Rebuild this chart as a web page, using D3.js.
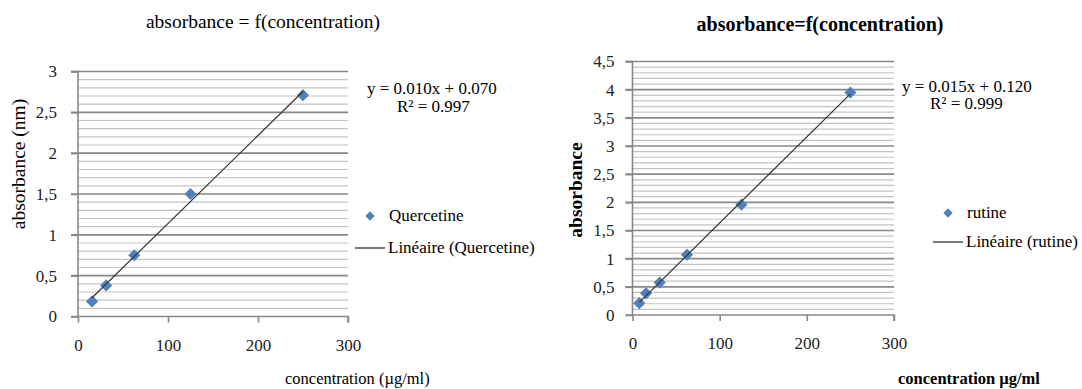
<!DOCTYPE html>
<html>
<head>
<meta charset="utf-8">
<script src="https://cdn.jsdelivr.net/npm/d3@7"></script>
<style>
  body { margin: 0; background: #fff; }
  svg text { font-family: "Liberation Serif", "Times New Roman", Times, "DejaVu Serif", serif !important; }
</style>
</head>
<body>
<div id="container"></div>
<script>
const width = 1082, height = 389;

/** -------------- DATA -------------- */

// quercetine standard curve
const quercetineConc = [15.6, 31.25, 62.5, 125, 250];
const quercetineAbs = [0.185, 0.38, 0.75, 1.5, 2.71];

// rutine standard curve
const rutineConc = [7.8, 15.6, 31.25, 62.5, 125, 250];
const rutineAbs = [0.21, 0.385, 0.575, 1.07, 1.96, 3.95];

const xTicks = [0, 100, 200, 300];
const quercetineYTicks = [0, 0.5, 1, 1.5, 2, 2.5, 3];
const rutineYTicks = [0, 0.5, 1, 1.5, 2, 2.5, 3, 3.5, 4, 4.5];

const charts = [
  {
    title: "absorbance = f(concentration)",
    bold: false,
    yLabel: "absorbance (nm)",
    xLabel: "concentration (\u00b5g/ml)",
    series: "Quercetine",
    conc: quercetineConc,
    abs: quercetineAbs,
    yTicks: quercetineYTicks,
    equation: "y = 0.010x + 0.070",
    r2: "R\u00b2 = 0.997",
    plot: { left: 78, right: 348, top: 71.5, bottom: 316.5 },
    yPad: 14,
    titleX: 263, titleY: 28,
    yLabelX: 25, yLabelY: 164,
    xLabelX: 285, xLabelY: 384,
    eqX: 367, eqY: 94, r2X: 397, r2Y: 112,
    legX: 355, legY1: 216, legY2: 248
  },
  {
    title: "absorbance=f(concentration)",
    bold: true,
    yLabel: "absorbance",
    xLabel: "concentration \u00b5g/ml",
    series: "rutine",
    conc: rutineConc,
    abs: rutineAbs,
    yTicks: rutineYTicks,
    equation: "y = 0.015x + 0.120",
    r2: "R\u00b2 = 0.999",
    plot: { left: 632.5, right: 894, top: 61.5, bottom: 315 },
    yPad: 11,
    titleX: 820, titleY: 31,
    yLabelX: 582, yLabelY: 190,
    xLabelX: 898, xLabelY: 384,
    eqX: 902, eqY: 92, r2X: 930, r2Y: 109,
    legX: 933, legY1: 213, legY2: 242
  }
];

/** -------------- DRAW -------------- */

const svg = d3.select("#container")
  .append("svg")
  .attr("width", width)
  .attr("height", height);

const diamond = d3.symbol().type(d3.symbolDiamond2).size(95);

function linearFit(xs, ys) {
  const mx = d3.mean(xs), my = d3.mean(ys);
  const sxy = d3.sum(xs, (x, i) => (x - mx) * (ys[i] - my));
  const sxx = d3.sum(xs, x => (x - mx) * (x - mx));
  const slope = sxy / sxx;
  return { slope, intercept: my - slope * mx };
}

charts.forEach(c => {
  const p = c.plot;
  const yMax = d3.max(c.yTicks);
  const x = d3.scaleLinear([0, 300], [p.left, p.right]);
  const y = d3.scaleLinear([0, yMax], [p.bottom, p.top]);
  const g = svg.append("g");

  // minor gridlines every 0.1
  const minor = d3.range(1, Math.round(yMax * 10) + 1)
    .map(i => i / 10)
    .filter(v => Math.abs(v * 2 - Math.round(v * 2)) > 1e-6);
  g.selectAll(".minor")
    .data(minor)
    .join("line")
      .attr("x1", p.left).attr("x2", p.right)
      .attr("y1", d => y(d)).attr("y2", d => y(d))
      .attr("stroke", "#c4c4c4")
      .attr("stroke-width", 1.2);

  // major gridlines
  g.selectAll(".major")
    .data(c.yTicks.filter(d => d > 0))
    .join("line")
      .attr("x1", p.left - 7).attr("x2", p.right)
      .attr("y1", d => y(d)).attr("y2", d => y(d))
      .attr("stroke", "#888")
      .attr("stroke-width", 1.6);

  // y axis
  const yAxis = g.append("g")
    .attr("transform", `translate(${p.left},0)`)
    .call(d3.axisLeft(y).tickValues(c.yTicks).tickSize(7).tickPadding(c.yPad)
      .tickFormat(d => String(d).replace(".", ",")));
  yAxis.attr("font-family", null).attr("font-size", null);
  yAxis.select(".domain").attr("stroke", "#888").attr("stroke-width", 1.6)
    .attr("d", `M-7,${p.top}H0V${p.bottom}`);
  yAxis.selectAll(".tick line").attr("stroke", "#888").attr("stroke-width", 1.6);
  yAxis.selectAll(".tick text")
    .attr("fill", "#222")
    .style("font-size", "17px");

  // x axis
  const xAxis = g.append("g")
    .attr("transform", `translate(0,${p.bottom})`)
    .call(d3.axisBottom(x).tickValues(xTicks).tickSize(6).tickPadding(16)
      .tickFormat(d3.format("d")));
  xAxis.attr("font-family", null).attr("font-size", null);
  xAxis.select(".domain").attr("stroke", "#888").attr("stroke-width", 1.6)
    .attr("d", `M${p.left - 7},0H${p.right}V6`);
  xAxis.selectAll(".tick line").attr("stroke", "#888").attr("stroke-width", 1.6);
  xAxis.selectAll(".tick text")
    .attr("fill", "#222")
    .style("font-size", "17px");

  // markers
  const pts = c.conc.map((v, i) => [v, c.abs[i]]);
  g.selectAll(".pt")
    .data(pts)
    .join("path")
      .attr("d", diamond)
      .attr("transform", d => `translate(${x(d[0])},${y(d[1])})`)
      .attr("fill", "#4f81bd");

  // linear trendline
  const fit = linearFit(c.conc, c.abs);
  const ext = d3.extent(c.conc);
  g.append("line")
    .attr("x1", x(ext[0])).attr("y1", y(fit.intercept + fit.slope * ext[0]))
    .attr("x2", x(ext[1])).attr("y2", y(fit.intercept + fit.slope * ext[1]))
    .attr("stroke", "#333")
    .attr("stroke-width", 1.2);

  // texts
  const weight = c.bold ? "bold" : "normal";
  g.append("text")
    .attr("x", c.titleX).attr("y", c.titleY)
    .attr("text-anchor", "middle")
    .style("font-size", c.bold ? "20px" : "19.5px")
    .style("font-weight", weight)
    .text(c.title);

  g.append("text")
    .attr("transform", `translate(${c.yLabelX},${c.yLabelY}) rotate(-90)`)
    .attr("text-anchor", "middle")
    .style("font-size", "19.5px")
    .style("font-weight", weight)
    .text(c.yLabel);

  g.append("text")
    .attr("x", c.xLabelX).attr("y", c.xLabelY)
    .style("font-size", "16.5px")
    .style("font-weight", weight)
    .text(c.xLabel);

  g.append("text")
    .attr("x", c.eqX).attr("y", c.eqY)
    .style("font-size", "17px")
    .text(c.equation);
  g.append("text")
    .attr("x", c.r2X).attr("y", c.r2Y)
    .style("font-size", "17px")
    .text(c.r2);

  // legend
  g.append("path")
    .attr("d", d3.symbol().type(d3.symbolDiamond2).size(55))
    .attr("transform", `translate(${c.legX + 15},${c.legY1})`)
    .attr("fill", "#4f81bd");
  g.append("text")
    .attr("x", c.legX + 34).attr("y", c.legY1 + 5)
    .style("font-size", "17px")
    .text(c.series);
  g.append("line")
    .attr("x1", c.legX).attr("x2", c.legX + 30)
    .attr("y1", c.legY2).attr("y2", c.legY2)
    .attr("stroke", "#222")
    .attr("stroke-width", 1.2);
  g.append("text")
    .attr("x", c.legX + 33).attr("y", c.legY2 + 5)
    .style("font-size", "17px")
    .text(`Lin\u00e9aire (${c.series})`);
});
</script>
</body>
</html>
